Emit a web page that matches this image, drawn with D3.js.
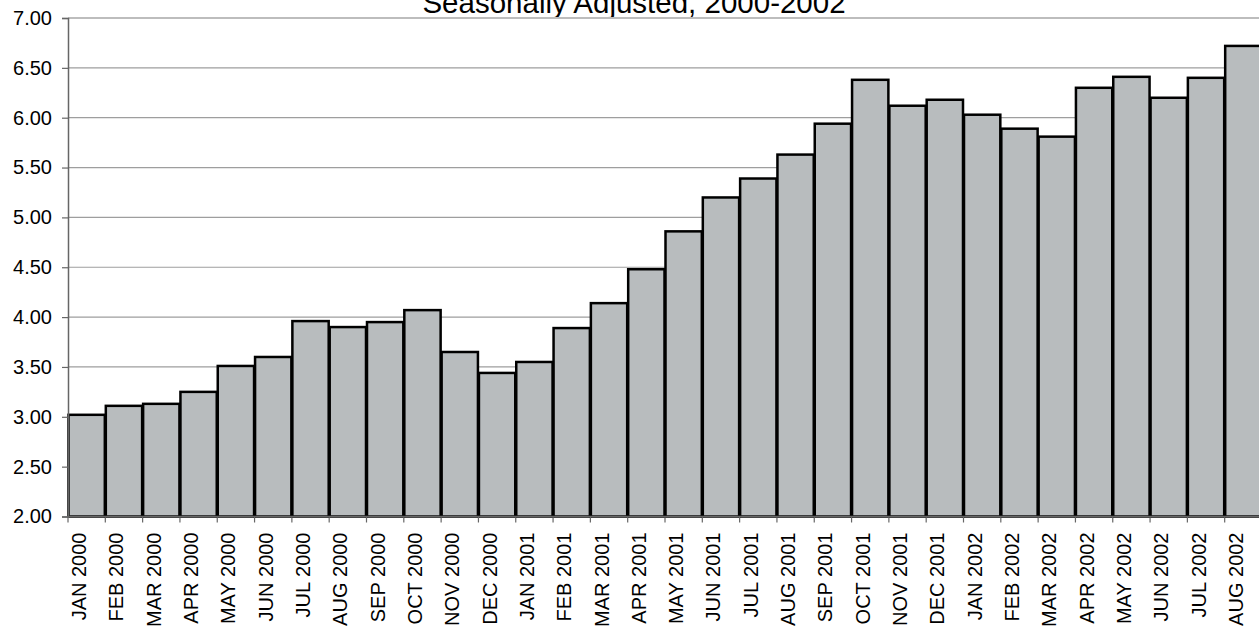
<!DOCTYPE html>
<html>
<head>
<meta charset="utf-8">
<script src="https://cdn.jsdelivr.net/npm/d3@7"></script>
<style>
  html, body { margin: 0; padding: 0; background: #fff; overflow: hidden; }
  svg { display: block; font-family: "Liberation Sans", Arial, sans-serif; }
</style>
</head>
<body>
<svg id="chart" width="1259" height="631"></svg>
<script>
// Monthly values, seasonally adjusted, Jan 2000 – Aug 2002
const months = [
  "JAN 2000","FEB 2000","MAR 2000","APR 2000","MAY 2000","JUN 2000",
  "JUL 2000","AUG 2000","SEP 2000","OCT 2000","NOV 2000","DEC 2000",
  "JAN 2001","FEB 2001","MAR 2001","APR 2001","MAY 2001","JUN 2001",
  "JUL 2001","AUG 2001","SEP 2001","OCT 2001","NOV 2001","DEC 2001",
  "JAN 2002","FEB 2002","MAR 2002","APR 2002","MAY 2002","JUN 2002",
  "JUL 2002","AUG 2002"
];
const values = [
  3.02, 3.11, 3.13, 3.25, 3.51, 3.60,
  3.96, 3.90, 3.95, 4.07, 3.65, 3.44,
  3.55, 3.89, 4.14, 4.48, 4.86, 5.20,
  5.39, 5.63, 5.94, 6.38, 6.12, 6.18,
  6.03, 5.89, 5.81, 6.30, 6.41, 6.20,
  6.40, 6.72
];
const yTicks = [2.0, 2.5, 3.0, 3.5, 4.0, 4.5, 5.0, 5.5, 6.0, 6.5, 7.0];
const title = "Seasonally Adjusted, 2000-2002";

const svg = d3.select("#chart");
const margin = { left: 68, top: 18 };
const plotW = 1194, plotH = 498.5;

const x = d3.scaleBand()
  .domain(months)
  .range([margin.left, margin.left + plotW])
  .paddingInner(0).paddingOuter(0);

const y = d3.scaleLinear()
  .domain([2, 7])
  .range([margin.top + plotH, margin.top]);

// subtitle line of the chart title
svg.append("text")
  .attr("x", 634)
  .attr("y", 13)
  .attr("text-anchor", "middle")
  .attr("font-size", 29.5)
  .attr("fill", "#000")
  .text(title);

// horizontal gridlines
svg.append("g")
  .selectAll("line")
  .data(yTicks.filter(d => d > 2))
  .join("line")
  .attr("x1", margin.left)
  .attr("x2", margin.left + plotW)
  .attr("y1", d => y(d))
  .attr("y2", d => y(d))
  .attr("stroke", d => d === 7 ? "#bdbdbd" : "#9e9e9e")
  .attr("stroke-width", d => d === 7 ? 2 : 1.2);

// bars
svg.append("g")
  .selectAll("rect")
  .data(values)
  .join("rect")
  .attr("x", (d, i) => x(months[i]) + 0.5)
  .attr("width", x.bandwidth() - 1)
  .attr("y", d => y(d))
  .attr("height", d => y(2) - y(d))
  .attr("fill", "#b8bcbe")
  .attr("stroke", "#000")
  .attr("stroke-width", 2.5);

// y axis
const yAxis = d3.axisLeft(y)
  .tickValues(yTicks)
  .tickFormat(d3.format(".2f"))
  .tickSize(6)
  .tickPadding(10);

const gy = svg.append("g")
  .attr("transform", `translate(${margin.left},0)`)
  .call(yAxis);
gy.select(".domain").attr("stroke", "#666").attr("stroke-width", 1.5);
gy.selectAll(".tick line").attr("stroke", "#666").attr("stroke-width", 1.2);
gy.selectAll(".tick text")
  .attr("font-size", 20)
  .attr("fill", "#000")
  .attr("font-family", "Liberation Sans, Arial, sans-serif");

// x axis: tick marks between bars, rotated month labels
const gx = svg.append("g")
  .attr("transform", `translate(0,${y(2)})`);
gx.append("line")
  .attr("x1", margin.left)
  .attr("x2", margin.left + plotW)
  .attr("stroke", "#666")
  .attr("stroke-width", 1.5);
gx.selectAll("line.tk")
  .data(months)
  .join("line")
  .attr("class", "tk")
  .attr("x1", d => x(d))
  .attr("x2", d => x(d))
  .attr("y1", 0)
  .attr("y2", 6)
  .attr("stroke", "#666")
  .attr("stroke-width", 1.2);
gx.selectAll("text")
  .data(months)
  .join("text")
  .attr("transform", d => `translate(${x(d) + x.bandwidth() / 2 - 0.5},16) rotate(-90)`)
  .attr("text-anchor", "end")
  .attr("font-size", 20)
  .attr("fill", "#000")
  .text(d => d);
</script>
</body>
</html>
